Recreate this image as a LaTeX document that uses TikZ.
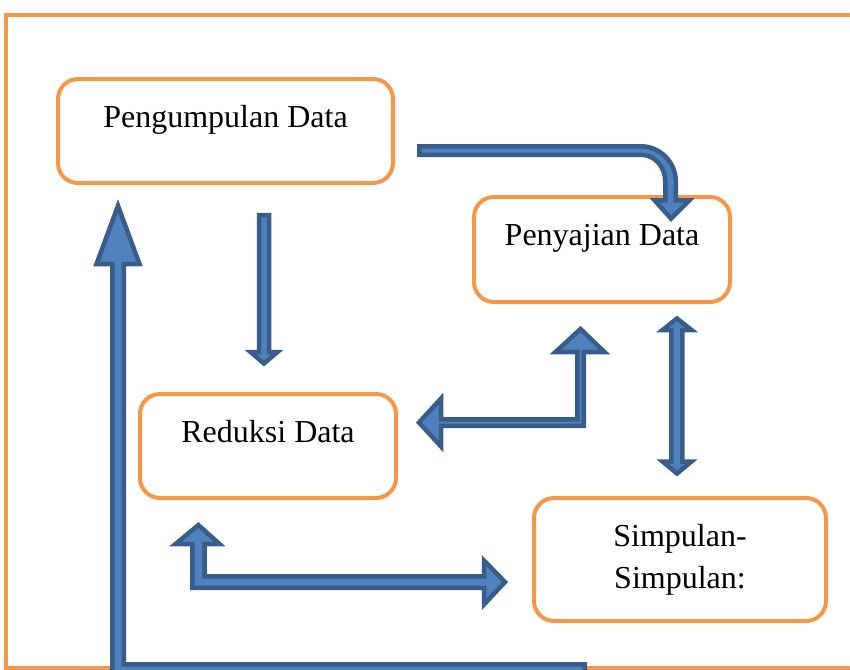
\documentclass[tikz,border=0pt]{standalone}
\usepackage{fontspec}
\setmainfont{Liberation Serif}
\definecolor{frameorange}{HTML}{F79646}
\definecolor{arrowfill}{HTML}{4F81BD}
\definecolor{arrowline}{HTML}{385D8A}
\begin{document}
\begin{tikzpicture}[x=0.5pt,y=-0.5pt,
  box/.style={draw=frameorange, line width=2pt, rounded corners=10pt,
    inner xsep=0pt, inner ysep=0pt, align=center,
    font=\fontsize{16pt}{21pt}\selectfont},
  barrow/.style={fill=arrowfill, draw=arrowline, line width=2.25pt, line join=miter},
  framestyle/.style={draw=frameorange, line width=2pt}]
\useasboundingbox (0,0) rectangle (850,669);
\clip (0,0) rectangle (850,669);
% outer frame
\draw[framestyle] (5.5,15) rectangle (900,667.5);
% boxes
\node[box, minimum width=167.5pt, text height=24pt, text depth=28pt, anchor=base]
  (collect) at (225.5,127) {Pengumpulan Data};
\node[box, minimum width=128pt, text height=24pt, text depth=28.5pt, anchor=base]
  (present) at (602,245) {Penyajian Data};
\node[box, minimum width=128pt, text height=24pt, text depth=28pt, anchor=base]
  (reduce) at (268,442) {Reduksi Data};
\node[box, minimum width=146pt, minimum height=61.5pt]
  (conclude) at (680,559.5) {Simpulan-\\Simpulan:};
% arrow: collect -> reduce
\draw[barrow] (259,215) -- (269,215) -- (269,352) -- (277.5,352) -- (264,363.5)
  -- (250.5,352) -- (259,352) -- cycle;
% arrow: collect -> present (curved)
\draw[barrow] (419.25,146.25) -- (640.75,146.25)
  .. controls (660,146.25) and (675.75,162) .. (675.75,181.25)
  -- (675.75,200.25) -- (689.5,200.25) -- (671,218.6) -- (654.5,200.25) -- (665.25,200.25)
  -- (665.25,181.25)
  .. controls (665.25,166.6) and (654.3,154.75) .. (640.75,154.75)
  -- (419.25,154.75) -- cycle;
% arrow: reduce <-> present (L shape)
\draw[barrow] (419,422.5) -- (441,398.5) -- (441,419.25) -- (577.25,419.25) -- (577.25,352)
  -- (555.5,352) -- (580.5,329) -- (604.5,352) -- (583.75,352) -- (583.75,425.75)
  -- (441,425.75) -- (441,446.5) -- cycle;
% arrow: present <-> conclude
\draw[barrow] (677,318.5) -- (691.5,330) -- (682.25,330) -- (682.25,461.5) -- (691.5,461.5)
  -- (677,473.5) -- (662.5,461.5) -- (671.25,461.5) -- (671.25,330) -- (662.5,330) -- cycle;
% arrow: reduce <-> conclude (L shape)
\draw[barrow] (198.4,525) -- (219.5,544) -- (204.5,544) -- (204.5,576.25) -- (484,576.25)
  -- (484,560.5) -- (505,582) -- (484,604.5) -- (484,587.75) -- (192.25,587.75)
  -- (192.25,544) -- (175.5,544) -- cycle;
% arrow: bottom -> collect (big L)
\draw[barrow] (118,205.8) -- (139.5,264) -- (123.75,264) -- (123.75,664.25) -- (584.75,664.25)
  -- (584.75,680) -- (112.25,680) -- (112.25,264) -- (96.5,264) -- cycle;
\end{tikzpicture}
\end{document}
